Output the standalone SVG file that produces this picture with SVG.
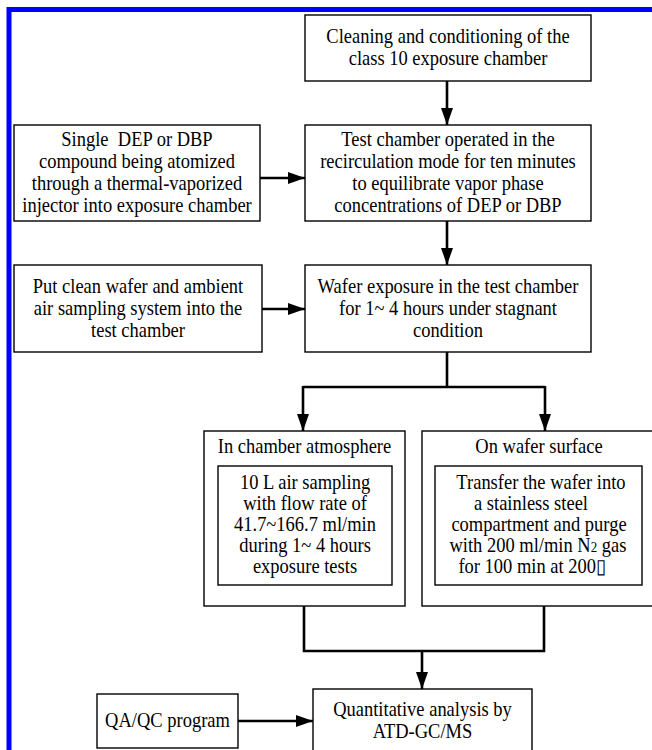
<svg xmlns="http://www.w3.org/2000/svg" width="652" height="750" viewBox="0 0 652 750">
<style>
.bx{fill:#fff;stroke:#000;stroke-width:1.4}
.t{font-family:"Liberation Serif","Times New Roman",serif;font-size:20px;fill:#000;text-anchor:middle;transform-box:fill-box;transform-origin:center;transform:scale(0.925,1)}
.c{fill:none;stroke:#000;stroke-width:2.6}
</style>
<defs>
<marker id="ah" viewBox="0 0 17 12" refX="17" refY="6" markerWidth="17" markerHeight="12" markerUnits="userSpaceOnUse" orient="auto">
<path d="M0,0 L17,6 L0,12 z" fill="#000"/>
</marker>
</defs>
<rect width="652" height="750" fill="#fff"/>
<rect x="9" y="9.5" width="700" height="800" fill="none" stroke="#0000ff" stroke-width="5"/>
<g id="connectors">
<line class="c" x1="447" y1="81" x2="447" y2="125" marker-end="url(#ah)"/>
<line class="c" x1="260" y1="178" x2="305" y2="178" marker-end="url(#ah)"/>
<line class="c" x1="447" y1="221" x2="447" y2="265" marker-end="url(#ah)"/>
<line class="c" x1="262" y1="309" x2="305" y2="309" marker-end="url(#ah)"/>
<polyline class="c" points="447,352 447,387"/>
<polyline class="c" points="303,387 545,387"/>
<line class="c" x1="303" y1="386" x2="303" y2="431" marker-end="url(#ah)"/>
<line class="c" x1="545" y1="386" x2="545" y2="431" marker-end="url(#ah)"/>
<polyline class="c" points="304,606 304,651 544,651 544,606"/>
<line class="c" x1="422" y1="651" x2="422" y2="689" marker-end="url(#ah)"/>
<line class="c" x1="238" y1="721" x2="313" y2="721" marker-end="url(#ah)"/>
</g>
<g id="n1"><rect class="bx" x="305" y="15" width="286" height="66"/>
<text class="t" x="448" y="43">Cleaning and conditioning of the</text>
<text class="t" x="448" y="65">class 10 exposure chamber</text></g>
<g id="n2"><rect class="bx" x="14" y="125" width="246" height="96"/>
<text class="t" x="137" y="146" xml:space="preserve">Single  DEP or DBP</text>
<text class="t" x="137" y="168">compound being atomized</text>
<text class="t" x="137" y="190">through a thermal-vaporized</text>
<text class="t" x="137" y="212">injector into exposure chamber</text></g>
<g id="n3"><rect class="bx" x="305" y="125" width="286" height="96"/>
<text class="t" x="448" y="146">Test chamber operated in the</text>
<text class="t" x="448" y="168">recirculation mode for ten minutes</text>
<text class="t" x="448" y="190">to equilibrate vapor phase</text>
<text class="t" x="448" y="212">concentrations of DEP or DBP</text></g>
<g id="n4"><rect class="bx" x="14" y="265" width="248" height="87"/>
<text class="t" x="138" y="293">Put clean wafer and ambient</text>
<text class="t" x="138" y="315">air sampling system into the</text>
<text class="t" x="138" y="337">test chamber</text></g>
<g id="n5"><rect class="bx" x="305" y="265" width="286" height="87"/>
<text class="t" x="448" y="293">Wafer exposure in the test chamber</text>
<text class="t" x="448" y="315">for 1~ 4 hours under stagnant</text>
<text class="t" x="448" y="337">condition</text></g>
<g id="n6"><rect class="bx" x="204" y="431" width="201" height="175"/>
<text class="t" x="304.5" y="453">In chamber atmosphere</text></g>
<g id="n7"><rect class="bx" x="218" y="466" width="174" height="119"/>
<text class="t" x="305" y="489">10 L air sampling</text>
<text class="t" x="305" y="510">with flow rate of</text>
<text class="t" x="305" y="531">41.7~166.7 ml/min</text>
<text class="t" x="305" y="552">during 1~ 4 hours</text>
<text class="t" x="305" y="573">exposure tests</text></g>
<g id="n8"><rect class="bx" x="422" y="431" width="234" height="175"/>
<text class="t" x="539" y="453">On wafer surface</text></g>
<g id="n9"><rect class="bx" x="435" y="466" width="207" height="119"/>
<text class="t" x="541" y="489">Transfer the wafer into</text>
<text class="t" x="531" y="510">a stainless steel</text>
<text class="t" x="539" y="531">compartment and purge</text>
<text class="t" x="538" y="552">with 200 ml/min N<tspan font-size="14">2</tspan> gas</text>
<text class="t" x="532" y="573">for 100 min at 200▯</text></g>
<g id="n10"><rect class="bx" x="313" y="689" width="219" height="80"/>
<text class="t" x="422.5" y="716">Quantitative analysis by</text>
<text class="t" x="422.5" y="738">ATD-GC/MS</text></g>
<g id="n11"><rect class="bx" x="97" y="694" width="141" height="54"/>
<text class="t" x="167.5" y="727">QA/QC program</text></g>
</svg>
